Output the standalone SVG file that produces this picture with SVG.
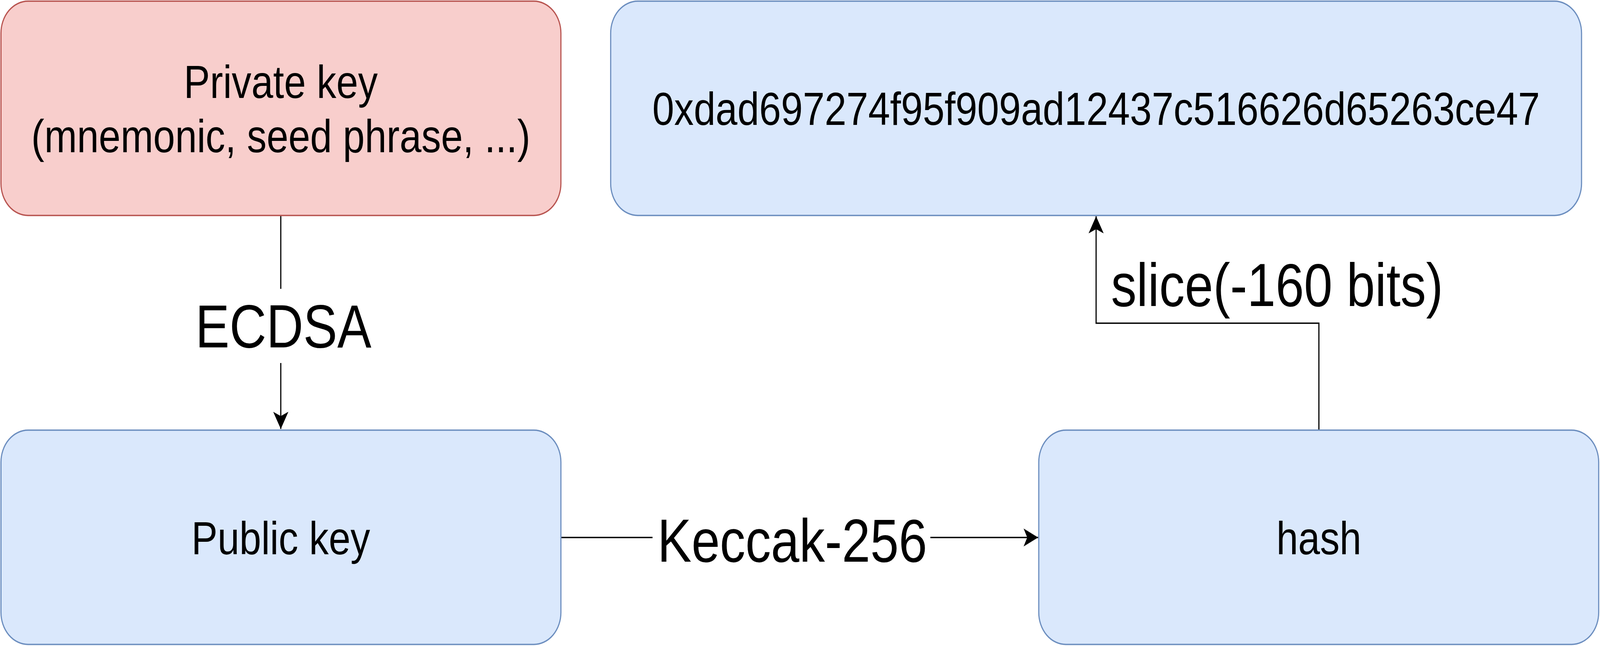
<svg xmlns="http://www.w3.org/2000/svg" width="4855" height="1655" viewBox="0 0 4855 1655" preserveAspectRatio="none">
  <style>
    svg:root { width: 100vw; height: 100vh; }
    .red { fill: #f8cecc; stroke: #b85450; stroke-width: 3.5; }
    .blue { fill: #dae8fc; stroke: #6c8ebf; stroke-width: 3.5; }
    .node { font-family: "Liberation Sans", Arial, sans-serif; font-size: 119px; fill: #000000; text-anchor: middle; }
    .lbl { font-family: "Liberation Sans", Arial, sans-serif; font-size: 155px; fill: #000000; text-anchor: middle; }
    .edge { fill: none; stroke: #000000; stroke-width: 3.5; }
    .lblbg { fill: #ffffff; stroke: none; }
  </style>
  <defs>
    <marker id="arrow" viewBox="0 0 44 46" refX="44" refY="23" markerWidth="44" markerHeight="46" markerUnits="userSpaceOnUse" orient="auto">
      <path d="M 0 0 L 44 23 L 0 46 L 11 23 Z" fill="#000000" stroke="none"/>
    </marker>
  </defs>
  <rect width="4855" height="1655" fill="#ffffff"/>

  <g id="connectors">
    <path class="edge" d="M 852 552 L 852 1099" marker-end="url(#arrow)"/>
    <rect class="lblbg" x="580" y="740" width="560" height="190"/>
    <text class="lbl" x="860" y="890">ECDSA</text>

    <path class="edge" d="M 1701 1377 L 3150 1377" marker-end="url(#arrow)"/>
    <rect class="lblbg" x="1980" y="1300" width="843" height="170"/>
    <text class="lbl" x="2404" y="1439">Keccak-256</text>

    <path class="edge" d="M 4002 1102 L 4002 828 L 3326 828 L 3326 554" marker-end="url(#arrow)"/>
    <text class="lbl" x="3875" y="784">slice(-160 bits)</text>
  </g>

  <g id="private-key">
    <rect class="red" x="3" y="3" width="1699" height="549" rx="82" ry="82"/>
    <text class="node" x="852" y="251">Private key</text>
    <text class="node" x="852" y="390">(mnemonic, seed phrase, ...)</text>
  </g>

  <g id="address">
    <rect class="blue" x="1853" y="3" width="2946" height="549" rx="82" ry="82"/>
    <text class="node" x="3326" y="320">0xdad697274f95f909ad12437c516626d65263ce47</text>
  </g>

  <g id="public-key">
    <rect class="blue" x="3" y="1102" width="1699" height="549" rx="82" ry="82"/>
    <text class="node" x="852" y="1420">Public key</text>
  </g>

  <g id="hash">
    <rect class="blue" x="3152" y="1102" width="1699" height="549" rx="82" ry="82"/>
    <text class="node" x="4002" y="1420">hash</text>
  </g>
</svg>
